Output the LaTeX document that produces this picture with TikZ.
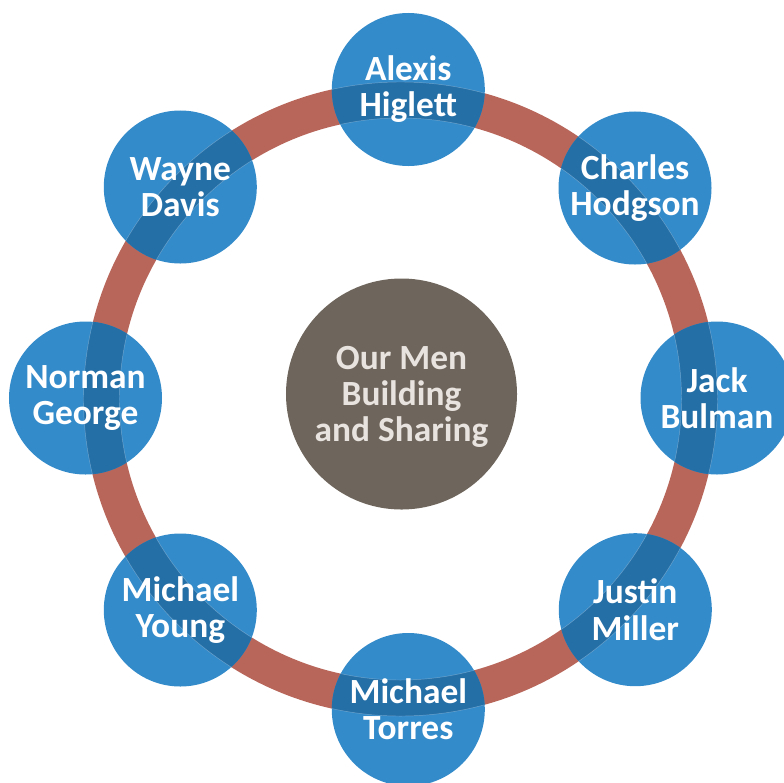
\documentclass[tikz,border=0pt]{standalone}
\usepackage{fontspec}
\setmainfont{Carlito}
\usepackage{tikz}
\usepackage{xcolor}

\definecolor{memberblue}{HTML}{348BCA}
\definecolor{overblue}{HTML}{256FA7}
\definecolor{ringred}{HTML}{B8665A}
\definecolor{corebrown}{HTML}{6E655C}
\definecolor{coretext}{HTML}{E8E3DE}

\tikzset{
  member/.style={circle, fill=memberblue, minimum size=4.59cm, inner sep=0pt,
    text=white, align=center, font=\fontsize{30.2}{30.8}\selectfont\bfseries,
    path picture={
      \draw[overblue, line width=1.08cm] (hub) circle[radius=8.97cm];
      \draw[white, opacity=0.3, line width=0.4pt] (hub) circle[radius=9.51cm];
      \draw[white, opacity=0.3, line width=0.4pt] (hub) circle[radius=8.43cm];
    }},
  core/.style={circle, fill=corebrown, minimum size=6.93cm, inner sep=0pt,
    text=coretext, align=center, font=\fontsize{30.2}{30.8}\selectfont\bfseries}
}

\begin{document}
\begin{tikzpicture}[x=0.03cm, y=-0.03cm]
\useasboundingbox (0,0) rectangle (784,782);

% the ring
\coordinate (hub) at (400.5,399);
\draw[ringred, line width=1.08cm] (hub) circle[radius=8.97cm];

% the middle
\node (core) at (401.5,394) [core, text depth=0pt] {Our Men\\Building\\and Sharing};

% the men round it
\node (alexis) at (408.3,89.5) [member] {Alexis\\Higlett};
\node (charles) at (635,188) [member] {Charles\\Hodgson};
\node (jack) at (717,398) [member] {Jack\\Bulman};
\node (justin) at (635.3,609.7) [member] {Justin\\Miller};
\node (torres) at (408.3,709.5) [member] {Michael\\Torres};
\node (young) at (180.3,610) [member] {Michael\\Young};
\node (norman) at (85.5,398) [member] {Norman\\George};
\node (wayne) at (180.3,187) [member] {Wayne\\Davis};

\end{tikzpicture}
\end{document}
